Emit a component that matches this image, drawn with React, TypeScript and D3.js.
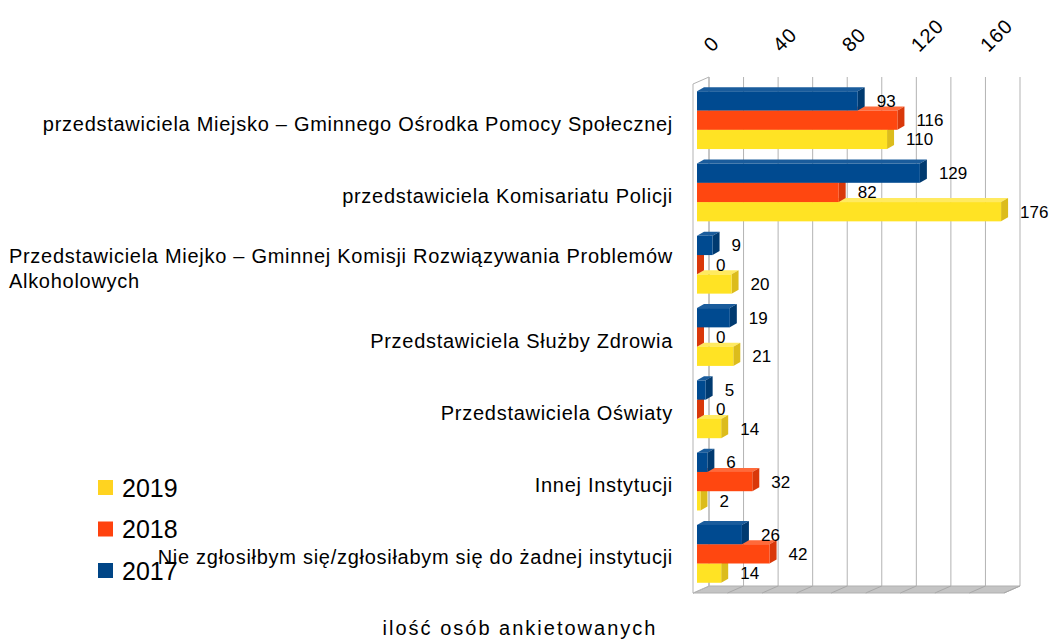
import { useEffect, useRef } from "react";
import * as d3 from "d3";

const categories = [
  "przedstawiciela Miejsko – Gminnego Ośrodka Pomocy Społecznej",
  "przedstawiciela Komisariatu Policji",
  "Przedstawiciela Miejko – Gminnej Komisji Rozwiązywania Problemów|Alkoholowych",
  "Przedstawiciela Służby Zdrowia",
  "Przedstawiciela Oświaty",
  "Innej Instytucji",
  "Nie zgłosiłbym się/zgłosiłabym się do żadnej instytucji",
];
const seriesNames = ["2017", "2018", "2019"];
const values2017 = [93, 129, 9, 19, 5, 6, 26];
const values2018 = [116, 82, 0, 0, 0, 32, 42];
const values2019 = [110, 176, 20, 21, 14, 2, 14];
const tickValues = [0, 40, 80, 120, 160];
const gridValues = [0, 20, 40, 60, 80, 100, 120, 140, 160, 180];

const seriesValues = [values2017, values2018, values2019];
const faceColors = [
  { front: "#004a90", side: "#003a70", top: "#1a5c9c" },
  { front: "#ff4710", side: "#d9380a", top: "#ff6a3a" },
  { front: "#ffe324", side: "#dcbc1c", top: "#ffea60" },
];
const legendColors = ["#004586", "#ff420e", "#ffd320"];

const FONT = "'Liberation Sans', Arial, sans-serif";

export default function App() {
  const svgRef = useRef<SVGSVGElement | null>(null);

  useEffect(() => {
    const svg = d3.select(svgRef.current!);
    svg.selectAll("*").remove();

    const width = 1050;
    const height = 640;
    svg.attr("width", width).attr("height", height);

    // front plane of the bars, back wall offset
    const x0 = 697;
    const backDx = 12;
    const wallDx = 16;
    const wallDy = -7;
    const barDx = 7;
    const barDy = -4;
    const floorY = 593;
    const topY = 84;

    const x = d3.scaleLinear().domain([0, 180]).range([0, 311]);
    const y = d3
      .scaleBand<string>()
      .domain(categories)
      .range([topY, 590])
      .paddingInner(0.2)
      .paddingOuter(0.1);
    const ySub = d3.scaleBand<string>().domain(seriesNames).range([0, y.bandwidth()]);

    const backX = (v: number) => x0 + backDx + x(v);
    const backTop = topY + wallDy + 2;
    const backBottom = floorY + wallDy;

    // floor
    const g = svg.append("g");
    g.append("polygon")
      .attr(
        "points",
        [
          [backX(0) - wallDx, floorY],
          [backX(0), backBottom],
          [backX(180), backBottom],
          [backX(180) - wallDx, floorY],
        ].join(" ")
      )
      .attr("fill", "#c4c4c4")
      .attr("stroke", "#b0b0b0");
    g.selectAll("line.floor")
      .data(gridValues)
      .join("line")
      .attr("x1", (d) => backX(d))
      .attr("x2", (d) => backX(d) - wallDx)
      .attr("y1", backBottom)
      .attr("y2", floorY)
      .attr("stroke", "#a8a8a8");

    // left wall
    g.append("polygon")
      .attr(
        "points",
        [
          [backX(0) - wallDx, floorY],
          [backX(0) - wallDx, topY],
          [backX(0), backTop - 2],
          [backX(0), backBottom],
        ].join(" ")
      )
      .attr("fill", "#fff")
      .attr("stroke", "#b3b3b3");

    // back wall grid
    g.selectAll("line.grid")
      .data(gridValues)
      .join("line")
      .attr("x1", (d) => backX(d))
      .attr("x2", (d) => backX(d))
      .attr("y1", backTop - 2)
      .attr("y2", backBottom)
      .attr("stroke", "#b3b3b3");

    // axis labels
    svg
      .append("g")
      .selectAll("text")
      .data(tickValues)
      .join("text")
      .attr("transform", (d) => `translate(${backX(d) + 3},53) rotate(-45)`)
      .attr("font-family", FONT)
      .attr("font-size", 20)
      .attr("letter-spacing", 1)
      .attr("fill", "#000")
      .text((d) => d);

    // bars: bottom series first so upper bars sit in front
    const bars = svg.append("g");
    categories.forEach((cat, ci) => {
      for (let si = seriesNames.length - 1; si >= 0; si--) {
        const v = seriesValues[si][ci];
        const c = faceColors[si];
        const yt = (y(cat) ?? 0) + (ySub(seriesNames[si]) ?? 0);
        const h = ySub.bandwidth();
        const xl = x0;
        const xr = x0 + x(v);
        // top
        bars
          .append("polygon")
          .attr("points", [[xl, yt], [xl + barDx, yt + barDy], [xr + barDx, yt + barDy], [xr, yt]].join(" "))
          .attr("fill", c.top);
        // side
        bars
          .append("polygon")
          .attr("points", [[xr, yt], [xr + barDx, yt + barDy], [xr + barDx, yt + h + barDy], [xr, yt + h]].join(" "))
          .attr("fill", c.side);
        // front
        if (v > 0) {
          bars
            .append("rect")
            .attr("x", xl)
            .attr("y", yt)
            .attr("width", xr - xl)
            .attr("height", h)
            .attr("fill", c.front);
        }
      }
    });

    // value labels
    const labels = svg.append("g").attr("font-family", FONT).attr("font-size", 17).attr("fill", "#000");
    categories.forEach((cat, ci) => {
      seriesNames.forEach((s, si) => {
        const v = seriesValues[si][ci];
        labels
          .append("text")
          .attr("x", x0 + x(v) + 19)
          .attr("y", (y(cat) ?? 0) + (ySub(s) ?? 0) + ySub.bandwidth() / 2)
          .attr("dy", "0.35em")
          .text(v);
      });
    });

    // category labels
    const catG = svg
      .append("g")
      .attr("font-family", FONT)
      .attr("font-size", 20)
      .attr("letter-spacing", 0.72)
      .attr("fill", "#000");
    categories.forEach((cat) => {
      const cy = (y(cat) ?? 0) + y.bandwidth() / 2;
      const lines = cat.split("|");
      if (lines.length === 1) {
        catG.append("text").attr("x", 673).attr("y", cy + 10.6).attr("text-anchor", "end").text(cat);
      } else {
        const t1 = catG
          .append("text")
          .attr("x", 673)
          .attr("y", cy - 2)
          .attr("text-anchor", "end")
          .text(lines[0]);
        const startX = (t1.node() as SVGTextElement).getBBox().x;
        catG.append("text").attr("x", startX).attr("y", cy + 23).text(lines[1]);
      }
    });

    // legend
    const legend = svg.append("g").attr("font-family", FONT).attr("font-size", 25).attr("fill", "#000");
    const legendOrder = [2, 1, 0];
    legendOrder.forEach((si, i) => {
      const ly = 480 + i * 41.5;
      legend.append("rect").attr("x", 98).attr("y", ly).attr("width", 15).attr("height", 15).attr("fill", legendColors[si]);
      legend
        .append("text")
        .attr("x", 122)
        .attr("y", ly + 8)
        .attr("dy", "0.35em")
        .text(seriesNames[si]);
    });

    // axis title
    svg
      .append("text")
      .attr("x", 520)
      .attr("y", 635)
      .attr("text-anchor", "middle")
      .attr("font-family", FONT)
      .attr("font-size", 20)
      .attr("letter-spacing", 2)
      .attr("fill", "#000")
      .text("ilość osób ankietowanych");
  }, []);

  return (
    <div style={{ position: "absolute", left: 0, top: 0, width: 1050, height: 640, background: "#fff" }}>
      <svg ref={svgRef} style={{ display: "block" }} />
    </div>
  );
}
